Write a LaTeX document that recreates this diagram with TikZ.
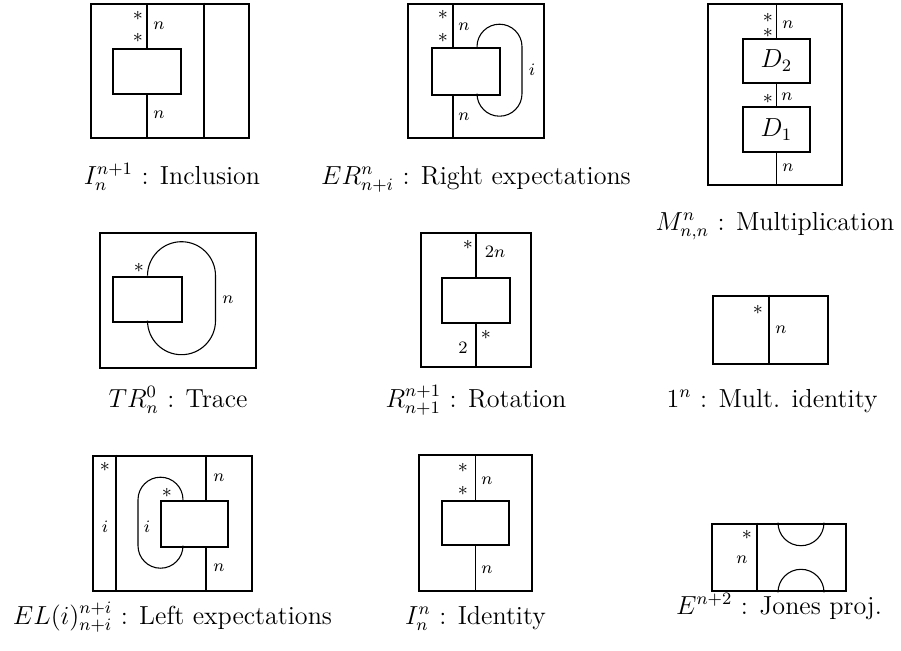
\documentclass[tikz,border=0pt]{standalone}
\usepackage{amsmath}
\usepackage{tikz}

\begin{document}
\begin{tikzpicture}[x=0.46pt,y=-0.46pt,
   every node/.style={inner sep=0pt},
   tbox/.style 2 args={draw,line width=1.2pt,minimum width=#1*0.46pt,minimum height=#2*0.46pt},
   dbox/.style 2 args={draw,line width=1.2pt,minimum width=#1*0.46pt,minimum height=#2*0.46pt,font=\large},
   string/.style={line width=0.5pt},
   lab/.style={font=\footnotesize},
   ast/.style={font=\small},
   capt/.style={anchor=base,font=\large}]
  \useasboundingbox (0,0) rectangle (901,650);

  % inclusion
  \node[tbox={158}{134}] (inc) at (170,71) {};
  \node[dbox={68}{45}] (incD) at (147,71.5) {};
  \coordinate (incR) at (204,0);
  \draw[string] (incD.north) -- (incD.north |- inc.north);
  \draw[string] (incD.south) -- (incD.south |- inc.south);
  \draw[string] (incR |- inc.north) -- (incR |- inc.south);
  \node[ast] (incS1) at (138,16) {$*$};
  \node[ast] (incS2) at (138,38) {$*$};
  \node[lab] (incN1) at (159,26) {$n$};
  \node[lab] (incN2) at (159,115) {$n$};
  \node[capt] (incCap) at (172,184) {$I_n^{n+1}$ : Inclusion};

  % right expectations
  \node[tbox={136}{134}] (er) at (476,71) {};
  \node[dbox={68}{47}] (erD) at (466,71.5) {};
  \coordinate (erL) at (453,0);
  \coordinate (erR) at (477,0);
  \draw[string] (erL |- erD.north) -- (erL |- er.north);
  \draw[string] (erL |- erD.south) -- (erL |- er.south);
  \draw[string] (erR |- erD.north) arc[start angle=180,end angle=360,radius=22.5]
    -- ++(0,47) arc[start angle=0,end angle=180,radius=22.5];
  \node[ast] (erS1) at (443,15) {$*$};
  \node[ast] (erS2) at (443,38) {$*$};
  \node[lab] (erN1) at (464,27) {$n$};
  \node[lab] (erN2) at (464,117) {$n$};
  \node[lab] (erI) at (532,70) {$i$};
  \node[capt] (erCap) at (476,184) {$ER^n_{n+i}$ : Right expectations};

  % multiplication
  \node[tbox={134}{181}] (mul) at (775,94.5) {};
  \node[dbox={67}{44}] (mulA) at (776.5,61) {$D_2$};
  \node[dbox={67}{45}] (mulB) at (776.5,129.5) {$D_1$};
  \draw[string] (mulA.north) -- (mulA.north |- mul.north);
  \draw[string] (mulA.south) -- (mulB.north);
  \draw[string] (mulB.south) -- (mulB.south |- mul.south);
  \node[ast] (mulS1) at (768,18) {$*$};
  \node[ast] (mulS2) at (768,33) {$*$};
  \node[ast] (mulS3) at (768,99) {$*$};
  \node[lab] (mulN1) at (788,25) {$n$};
  \node[lab] (mulN2) at (787,97) {$n$};
  \node[lab] (mulN3) at (788,168) {$n$};
  \node[capt] (mulCap) at (775,230) {$M^n_{n,n}$ : Multiplication};

  % trace
  \node[tbox={156}{135}] (tr) at (178,300.5) {};
  \node[dbox={69}{45}] (trD) at (147.5,299.5) {};
  \draw[string] (trD.north) arc[start angle=180,end angle=360,radius=34]
    -- ++(0,45) arc[start angle=0,end angle=180,radius=34];
  \node[ast] (trS) at (139,268) {$*$};
  \node[lab] (trN) at (228,300) {$n$};
  \node[capt] (trCap) at (178,407) {$TR^0_n$ : Trace};

  % rotation
  \node[tbox={110}{134}] (rot) at (476,300) {};
  \node[dbox={68}{45}] (rotD) at (476,300.5) {};
  \draw[string] (rotD.north) -- (rotD.north |- rot.north);
  \draw[string] (rotD.south) -- (rotD.south |- rot.south);
  \node[ast] (rotS1) at (468,245) {$*$};
  \node[lab] (rotN) at (495,252) {$2n$};
  \node[ast] (rotS2) at (486,335) {$*$};
  \node[lab] (rotT) at (463,348) {$2$};
  \node[capt] (rotCap) at (476,407) {$R^{n+1}_{n+1}$ : Rotation};

  % mult. identity
  \node[tbox={115}{68}] (one) at (770.5,330) {};
  \coordinate (oneL) at (769,0);
  \draw[string] (oneL |- one.north) -- (oneL |- one.south);
  \node[ast] (oneS) at (758,310) {$*$};
  \node[lab] (oneN) at (781,330) {$n$};
  \node[capt] (oneCap) at (772,407) {$1^n$ : Mult. identity};

  % left expectations
  \node[tbox={159}{135}] (el) at (172.5,523.5) {};
  \node[dbox={67}{46}] (elD) at (194.5,524) {};
  \coordinate (elL) at (116,0);
  \coordinate (elM) at (206,0);
  \coordinate (elC) at (183,0);
  \draw[string] (elL |- el.north) -- (elL |- el.south);
  \draw[string] (elM |- elD.north) -- (elM |- el.north);
  \draw[string] (elM |- elD.south) -- (elM |- el.south);
  \draw[string] (elC |- elD.north) arc[start angle=0,end angle=-180,radius=22.5]
    -- ++(0,46) arc[start angle=180,end angle=0,radius=22.5];
  \node[ast] (elS1) at (105,467) {$*$};
  \node[lab] (elI1) at (105,527) {$i$};
  \node[lab] (elI2) at (147,527) {$i$};
  \node[ast] (elS2) at (167,493) {$*$};
  \node[lab] (elN1) at (219,478) {$n$};
  \node[lab] (elN2) at (219,568) {$n$};
  \node[capt] (elCap) at (172.5,624) {$EL(i)^{n+i}_{n+i}$ : Left expectations};

  % identity
  \node[tbox={113}{136}] (id) at (475.5,523) {};
  \node[dbox={67}{44}] (idD) at (475.5,523) {};
  \draw[string] (idD.north) -- (idD.north |- id.north);
  \draw[string] (idD.south) -- (idD.south |- id.south);
  \node[ast] (idS1) at (463,468) {$*$};
  \node[ast] (idS2) at (463,491) {$*$};
  \node[lab] (idN1) at (487,481) {$n$};
  \node[lab] (idN2) at (487,570) {$n$};
  \node[capt] (idCap) at (475.5,624) {$I^n_n$ : Identity};

  % jones projection
  \node[tbox={134}{67}] (jp) at (779,557.5) {};
  \coordinate (jpL) at (757,0);
  \coordinate (jpA) at (778,0);
  \draw[string] (jpL |- jp.north) -- (jpL |- jp.south);
  \draw[string] (jpA |- jp.north) arc[start angle=180,end angle=0,radius=23];
  \draw[string] (jpA |- jp.south) arc[start angle=180,end angle=360,radius=23];
  \node[ast] (jpS) at (747,535) {$*$};
  \node[lab] (jpN) at (742,560) {$n$};
  \node[capt] (jpCap) at (779,614) {$E^{n+2}$ : Jones proj.};
\end{tikzpicture}
\end{document}
